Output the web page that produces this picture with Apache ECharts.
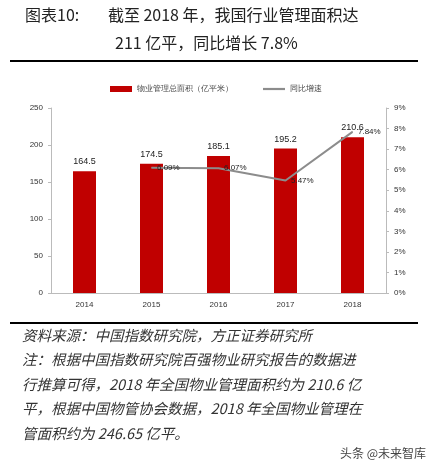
<!DOCTYPE html><html><head><meta charset="utf-8"><script src="https://cdn.jsdelivr.net/npm/echarts@6/dist/echarts.min.js"></script>
<style>body{margin:0}#c{width:432px;height:467px}</style></head><body><div id="c"></div><script>
const years=['2014','2015','2016','2017','2018'];
const area=[164.5,174.5,185.1,195.2,210.6];
const growth=[null,6.09,6.07,5.47,7.84];
const F='"Noto Sans CJK SC"';
const tx=(t,x,y,s,extra)=>({type:'text',left:x,top:y,style:Object.assign({text:t,font:s+'px '+F,fill:'#222'},extra||{})});
const notes=['资料来源：中国指数研究院，方正证券研究所','注：根据中国指数研究院百强物业研究报告的数据进','行推算可得，2018 年全国物业管理面积约为 210.6 亿','平，根据中国物管协会数据，2018 年全国物业管理在','管面积约为 246.65 亿平。'];
const c=echarts.init(document.getElementById('c'));
c.setOption({
animation:false,backgroundColor:'#fff',
graphic:[
 tx('图表10:        截至 2018 年，我国行业管理面积达',25,7,16),
 tx('211 亿平，同比增长 7.8%',115,35,16),
 {type:'rect',shape:{x:10,y:60,width:408,height:2},style:{fill:'#000'}},
 {type:'rect',shape:{x:10,y:322,width:408,height:2},style:{fill:'#000'}},
 ...notes.map((n,i)=>tx(n,22,328+i*24.5,14.5,{fill:'#333',font:'italic 14.5px '+F})),
 tx('头条 @未来智库',340,447,12,{fill:'#444'})
],
legend:{top:80,left:'center',itemGap:30,textStyle:{fontSize:8,color:'#444'},itemWidth:22,itemHeight:6,
 data:[{name:'物业管理总面积（亿平米）',icon:'rect'},{name:'同比增速',icon:'path://M0,0H20V2H0Z'}]},
grid:{left:51,right:46,top:108,bottom:174},
xAxis:{type:'category',data:years,axisTick:{show:false},axisLine:{lineStyle:{color:'#bbb'}},axisLabel:{fontSize:8,color:'#333'}},
yAxis:[{type:'value',min:0,max:250,interval:50,splitLine:{show:false},axisLine:{show:true,lineStyle:{color:'#bbb'}},axisTick:{show:true,length:3},axisLabel:{fontSize:8,color:'#333'}},
 {type:'value',min:0,max:9,interval:1,splitLine:{show:false},axisLine:{show:true,lineStyle:{color:'#bbb'}},axisTick:{show:true,length:3},axisLabel:{fontSize:8,color:'#333',formatter:'{value}%'}}],
series:[
 {name:'物业管理总面积（亿平米）',type:'bar',data:area,barWidth:23,itemStyle:{color:'#c00000'},label:{show:true,position:'top',fontSize:9,color:'#222'}},
 {name:'同比增速',type:'line',yAxisIndex:1,data:growth,symbol:'circle',symbolSize:1,showSymbol:true,lineStyle:{color:'#8c8c8c',width:2},itemStyle:{color:'#8c8c8c'},
  label:{show:true,position:'right',fontSize:8,color:'#222',formatter:p=>p.value.toFixed(2)+'%'}}
]});
</script></body></html>
